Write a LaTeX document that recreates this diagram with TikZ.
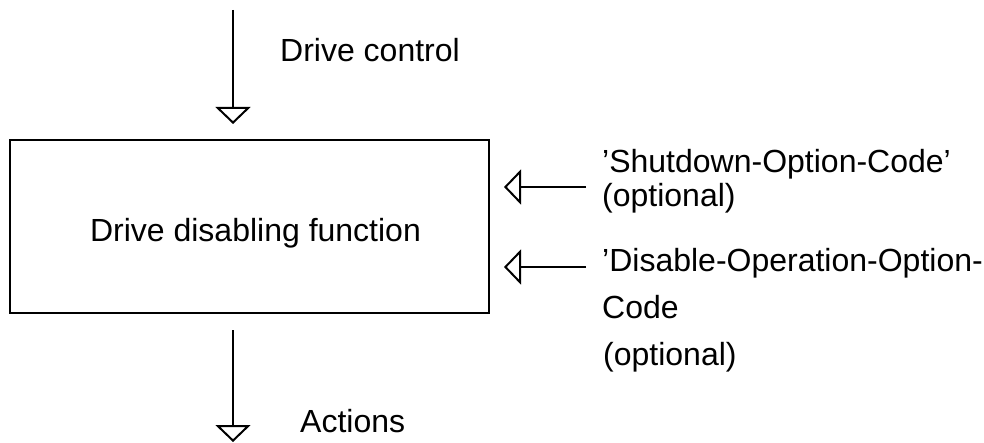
\documentclass[tikz,border=0pt]{standalone}
\usepackage{fontspec}
\setmainfont{Liberation Sans}
\usetikzlibrary{arrows.meta}
\begin{document}
\begin{tikzpicture}[x=1pt,y=-1pt,
  lbl/.style={anchor=base west,inner sep=0pt,font=\fontsize{32}{36}\selectfont},
  flow/.style={line width=2pt,-{Triangle[open,length=17pt,width=35pt,line width=2pt]}},
  fbox/.style={draw,line width=2.5pt,minimum width=479pt,minimum height=173pt,inner sep=0pt}]
\useasboundingbox (0,0) rectangle (984,443);
\node[fbox] (box) at (249.5,226.5) {};
\node[anchor=base,inner sep=0pt,font=\fontsize{32}{36}\selectfont] (boxtext) at (255.5,242) {Drive disabling function};
\coordinate (tin) at (233,10);
\coordinate (tout) at (233,124);
\coordinate (bin) at (233,330);
\coordinate (bout) at (233,442);
\coordinate (s1) at (586,187);
\coordinate (e1) at (504,187);
\coordinate (s2) at (586,267);
\coordinate (e2) at (504,267);
\draw[flow] (tin) -- (tout);
\draw[flow] (bin) -- (bout);
\draw[flow] (s1) -- (e1);
\draw[flow] (s2) -- (e2);
\node[lbl] (dc) at (280,62) {Drive control};
\node[lbl] (act) at (300,432) {Actions};
\node[lbl] (sd1) at (602,173) {'Shutdown-Option-Code'};
\node[lbl] (sd2) at (602,207) {(optional)};
\node[lbl] (do1) at (602,272) {'Disable-Operation-Option-};
\node[lbl] (do2) at (602,318) {Code};
\node[lbl] (do3) at (603,365) {(optional)};
\end{tikzpicture}
\end{document}
